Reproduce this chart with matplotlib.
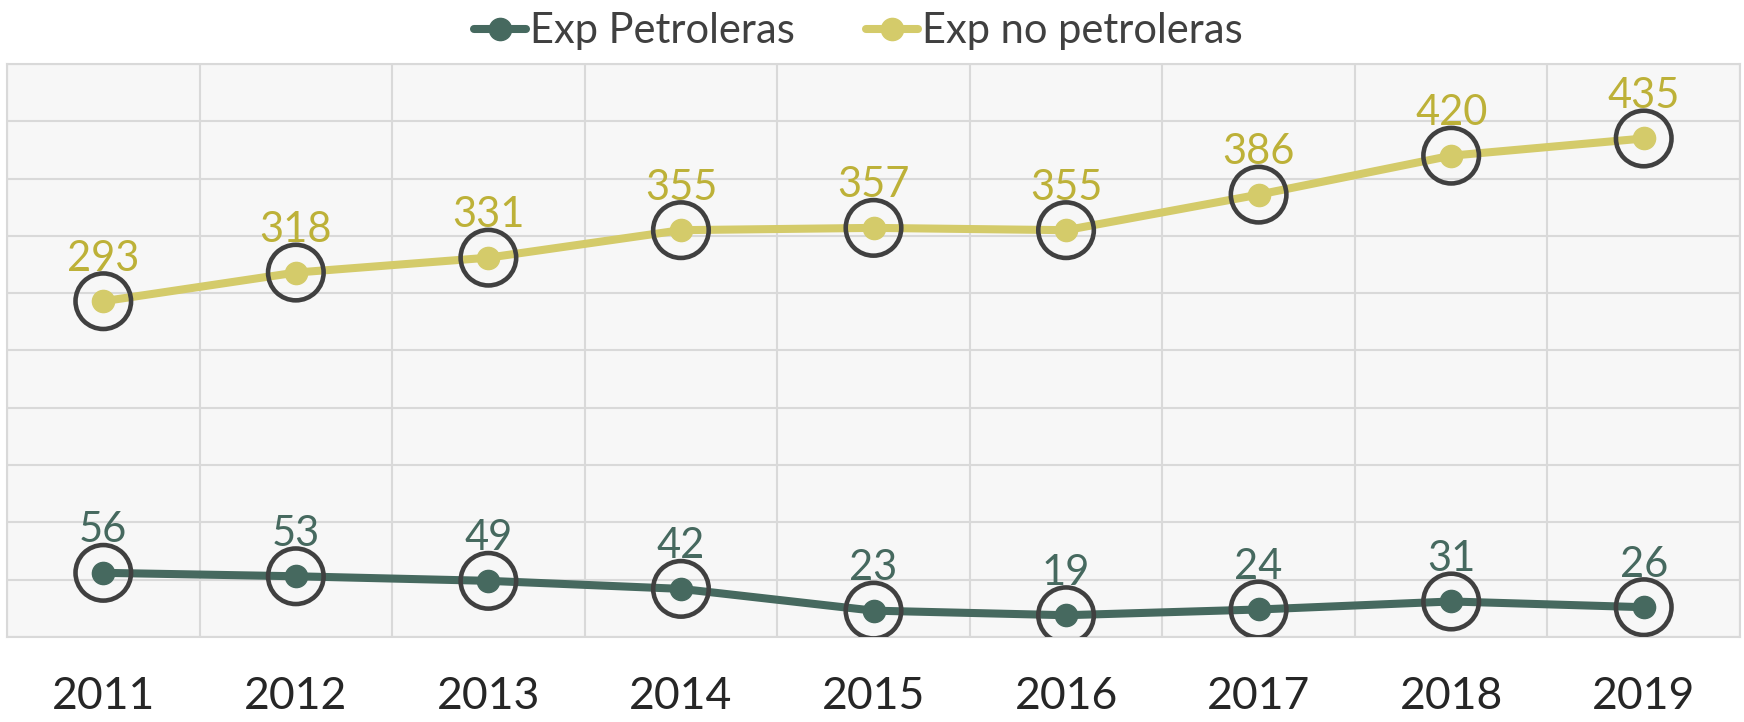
import matplotlib
matplotlib.use("Agg")
import matplotlib.pyplot as plt
from matplotlib.lines import Line2D

years = ["2011", "2012", "2013", "2014", "2015", "2016", "2017", "2018", "2019"]
petroleras = [56, 53, 49, 42, 23, 19, 24, 31, 26]
no_petroleras = [293, 318, 331, 355, 357, 355, 386, 420, 435]
series_names = ["Exp Petroleras", "Exp no petroleras"]

c_pet = "#46695F"
c_nop = "#D4CB6A"
c_nop_lbl = "#BDB138"
c_ring = "#404040"

plt.rcParams['font.family'] = ['Lato', 'DejaVu Sans']

fig = plt.figure(figsize=(17.44, 7.22), dpi=100)
ax = fig.add_axes([7/1744, 1-637/722, (1740-7)/1744, (637-64)/722])
ax.set_facecolor("#F7F7F7")

x = list(range(len(years)))
for vals, col, lcol in [(petroleras, c_pet, c_pet), (no_petroleras, c_nop, c_nop_lbl)]:
    ax.plot(x, vals, color=col, lw=5.8, marker='o', ms=16, zorder=3, solid_capstyle='round')
    ax.scatter(x, vals, s=40**2, facecolors='none', edgecolors=c_ring, linewidths=3.3, zorder=4)
    for xi, v in zip(x, vals):
        ax.annotate(str(v), (xi, v), xytext=(0, 22), textcoords='offset points',
                    ha='center', va='baseline', fontsize=30, color=lcol, zorder=5)

ax.set_xlim(-0.5, len(years) - 0.5)
ax.set_ylim(0, 500)
ax.set_yticks(range(0, 501, 50))
ax.set_yticklabels([])
ax.set_xticks(x)
ax.set_xticklabels(years, fontsize=32, color="#262626")
ax.set_xticks([i - 0.5 for i in range(len(years) + 1)], minor=True)
ax.tick_params(axis='x', which='both', length=0, pad=28)
ax.tick_params(axis='y', length=0)
ax.grid(False)
ax.grid(True, which='minor', axis='x', color="#D9D9D9", lw=1.5)
ax.grid(True, which='major', axis='y', color="#D9D9D9", lw=1.5)
ax.set_axisbelow(True)
for s in ax.spines.values():
    s.set_color("#D9D9D9")
    s.set_linewidth(1.5)

handles = [Line2D([0], [0], color=c_pet, lw=5.8, marker='o', ms=16, solid_capstyle='round'),
           Line2D([0], [0], color=c_nop, lw=5.8, marker='o', ms=16, solid_capstyle='round')]
fig.legend(handles, series_names, loc='upper center', bbox_to_anchor=(0.492, 1.035), ncol=2,
           frameon=False, fontsize=30, handlelength=1.25, handletextpad=0.1, columnspacing=1.7,
           labelcolor="#404040")

fig.savefig("out.png", dpi=100, facecolor="white")
